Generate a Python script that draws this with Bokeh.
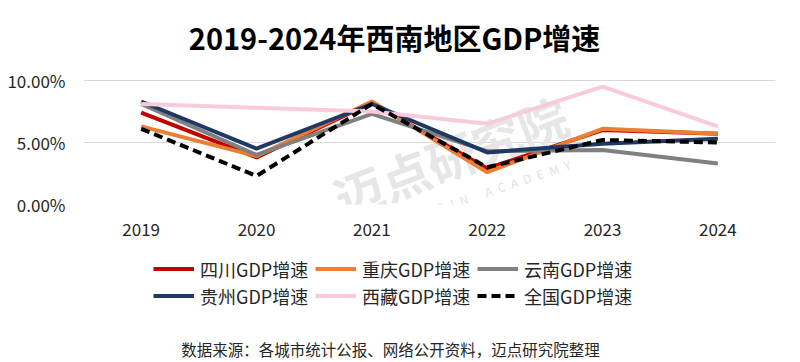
from bokeh.plotting import figure
from bokeh.layouts import column
from bokeh.models import (Range1d, FactorRange, FixedTicker, PrintfTickFormatter,
                          Legend, LegendItem, Label)
from bokeh.embed import file_html
from bokeh.resources import INLINE

years = ["2019", "2020", "2021", "2022", "2023", "2024"]
sichuan = [7.4, 3.8, 8.2, 2.9, 6.0, 5.7]
chongqing = [6.3, 3.9, 8.3, 2.6, 6.1, 5.7]
yunnan = [8.1, 4.0, 7.3, 4.3, 4.4, 3.3]
guizhou = [8.3, 4.5, 8.1, 4.2, 4.9, 5.3]
xizang = [8.1, 7.8, 7.5, 6.5, 9.5, 6.3]
national = [6.1, 2.3, 8.1, 3.0, 5.2, 5.0]
series_names = ["四川GDP增速", "重庆GDP增速", "云南GDP增速", "贵州GDP增速", "西藏GDP增速", "全国GDP增速"]
y_ticks = [0, 5, 10]
title_text = "2019-2024年西南地区GDP增速"
source_text = "数据来源：各城市统计公报、网络公开资料，迈点研究院整理"
watermark_text = "迈点研究院"
watermark_sub = "\u2002".join("MEADIN") + "\u2002\u2002\u2002" + "\u2002".join("ACADEMY")

FONT = "Noto Sans CJK SC"
W = 800
FL = 83  # frame left (frames are aligned across the column)


def blank(height, x_range):
    f = figure(width=W, height=height, x_range=x_range, y_range=Range1d(100, 101),
               output_backend="svg", toolbar_location=None,
               x_axis_location=None, y_axis_location=None, min_border=0)
    f.outline_line_color = None
    f.xgrid.visible = False
    f.ygrid.visible = False
    return f


# title strip
pt = blank(62, Range1d(0, 1))
pt.add_layout(Label(x=394 - FL, y=26, x_units="screen", y_units="screen", text=title_text,
                    text_align="center", text_baseline="middle", text_font=FONT,
                    text_font_size="29px", text_font_style="bold", text_color="#000000"))

# main chart
p = figure(width=W, height=178, x_range=FactorRange(*years, range_padding=0),
           y_range=Range1d(0, 10.8), output_backend="svg", toolbar_location=None,
           min_border_left=FL, min_border_right=25, min_border_top=8, min_border_bottom=36)
p.outline_line_color = None
p.xgrid.grid_line_color = None
p.ygrid.grid_line_color = "#D9D9D9"
p.ygrid.grid_line_width = 1
p.yaxis.ticker = FixedTicker(ticks=y_ticks)
p.yaxis.formatter = PrintfTickFormatter(format="%.2f%%")
for ax in (p.xaxis[0], p.yaxis[0]):
    ax.axis_line_color = None
    ax.major_tick_line_color = None
    ax.minor_tick_line_color = None
    ax.major_label_text_font = FONT
    ax.major_label_text_font_size = "17px"
    ax.major_label_text_color = "#262626"
p.yaxis.major_label_standoff = 12
p.xaxis.major_label_standoff = 12

# faint watermark under the lines
p.add_layout(Label(x=367, y=49, x_units="screen", y_units="screen", text=watermark_text,
                   text_align="center", text_baseline="middle", text_font=FONT,
                   text_font_size="49px", text_font_style="bold", text_color="#E6E6E6",
                   angle=0.363, level="underlay"))
p.add_layout(Label(x=400, y=12, x_units="screen", y_units="screen", text=watermark_sub,
                   text_align="center", text_baseline="middle", text_font=FONT,
                   text_font_size="12px", text_color="#E2E2E2",
                   angle=0.32, level="underlay"))

data = [sichuan, chongqing, yunnan, guizhou, xizang, national]
colors = ["#C00000", "#ED7D31", "#808080", "#1F3864", "#F8CBDA", "#000000"]
dashes = ["solid"] * 5 + ["9 5"]
for vals, c, d in zip(data, colors, dashes):
    p.line(years, vals, line_color=c, line_width=4, line_dash=d)

# legend + source strip (lines drawn off-screen, only used as legend glyphs)
pb = blank(122, FactorRange(*years, range_padding=0))
items = []
for name, vals, c, d in zip(series_names, data, colors, dashes):
    r = pb.line(years, vals, line_color=c, line_width=4, line_dash=d)
    items.append(LegendItem(label=name, renderers=[r]))
legend = Legend(items=items, location=(153 - FL, 53), orientation="horizontal", ncols=3,
                padding=0, margin=0, spacing=0, glyph_width=41, glyph_height=27,
                label_height=27, label_width=115, label_standoff=6, border_line_color=None,
                background_fill_alpha=0, label_text_font=FONT,
                label_text_font_size="18px", label_text_color="#262626")
pb.add_layout(legend, "center")
pb.add_layout(Label(x=390 - FL, y=14, x_units="screen", y_units="screen", text=source_text,
                    text_align="center", text_baseline="middle", text_font=FONT,
                    text_font_size="15.5px", text_color="#262626"))

layout = column(pt, p, pb, spacing=0)
open("out.html", "w").write(file_html(layout, INLINE))
